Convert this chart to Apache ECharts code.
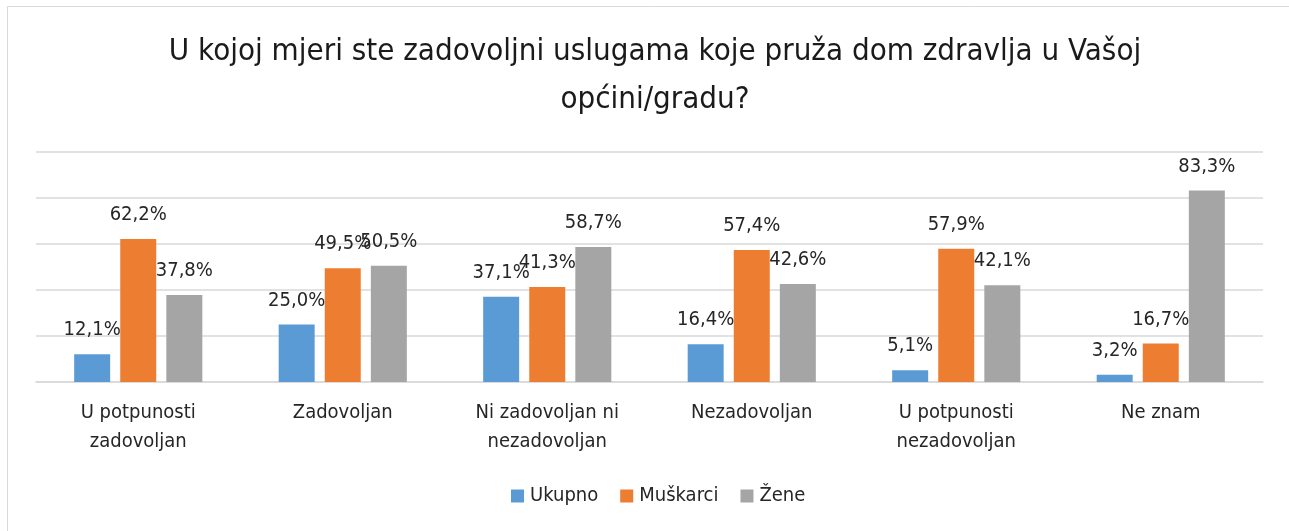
<!DOCTYPE html>
<html lang="hr">
<head>
<meta charset="UTF-8">
<title>Zadovoljstvo domom zdravlja</title>
<script src="https://cdn.jsdelivr.net/npm/echarts@6/dist/echarts.min.js"></script>
<style>
  * { margin: 0; padding: 0; }
  html, body { background: #fff; }
  #main { width: 1289px; height: 531px; }
</style>
</head>
<body>
<div id="main"></div>
<script>
const categories = ['U potpunosti\nzadovoljan', 'Zadovoljan', 'Ni zadovoljan ni\nnezadovoljan', 'Nezadovoljan', 'U potpunosti\nnezadovoljan', 'Ne znam'];
const ukupno = [12.1, 25.0, 37.1, 16.4, 5.1, 3.2];
const muskarci = [62.2, 49.5, 41.3, 57.4, 57.9, 16.7];
const zene = [37.8, 50.5, 58.7, 42.6, 42.1, 83.3];

const FONT = '"DejaVu Sans Condensed", "Liberation Sans Narrow", sans-serif';
const chart = echarts.init(document.getElementById('main'));

function pct(p) {
    return p.value.toFixed(1).replace('.', ',') + '%';
}

function bar(name, data, color) {
    return {
        name: name,
        type: 'bar',
        data: data,
        barWidth: 36,
        barGap: '28%',
        itemStyle: { color: color },
        label: {
            show: true,
            position: 'top',
            distance: 14,
            formatter: pct,
            color: '#262626',
            fontFamily: FONT,
            fontSize: 20
        }
    };
}

chart.setOption({
    animation: false,
    title: {
        text: 'U kojoj mjeri ste zadovoljni uslugama koje pruža dom zdravlja u Vašoj\nopćini/gradu?',
        left: 650,
        textAlign: 'center',
        top: 23,
        textStyle: {
            fontFamily: FONT,
            fontWeight: 'normal',
            fontSize: 31,
            lineHeight: 48,
            color: '#1a1a1a'
        }
    },
    graphic: [{
        type: 'rect',
        shape: { x: 7.5, y: 6.5, width: 1300, height: 540 },
        style: { fill: null, stroke: '#d9d9d9', lineWidth: 1 },
        silent: true
    }],
    legend: {
        bottom: 20,
        left: 506,
        itemWidth: 13,
        itemHeight: 13,
        itemGap: 22,
        icon: 'rect',
        textStyle: { fontFamily: FONT, fontSize: 20, color: '#262626', padding: [0, 0, 0, 1] },
        data: ['Ukupno', 'Muškarci', 'Žene']
    },
    grid: { left: 36, right: 26, top: 152, bottom: 149 },
    xAxis: {
        type: 'category',
        data: categories,
        axisLine: { lineStyle: { color: '#d9d9d9', width: 1.5 } },
        axisTick: { show: false },
        axisLabel: {
            fontFamily: FONT,
            fontSize: 20,
            lineHeight: 29,
            color: '#262626',
            margin: 16
        }
    },
    yAxis: {
        type: 'value',
        min: 0,
        max: 100,
        interval: 20,
        axisLabel: { show: false },
        axisLine: { show: false },
        axisTick: { show: false },
        splitLine: { lineStyle: { color: '#d9d9d9', width: 1.5 } }
    },
    series: [
        bar('Ukupno', ukupno, '#5B9BD5'),
        bar('Muškarci', muskarci, '#ED7D31'),
        bar('Žene', zene, '#A5A5A5')
    ]
});
</script>
</body>
</html>
